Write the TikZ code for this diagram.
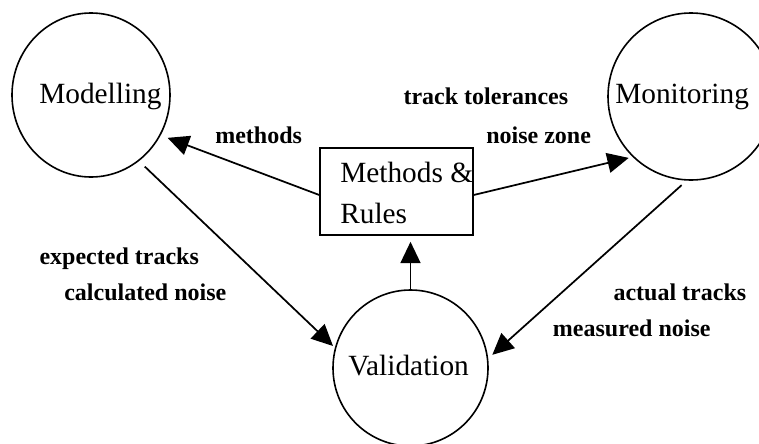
\documentclass[tikz,border=0pt]{standalone}
\usepackage{fontspec}
\setmainfont{Liberation Serif}
\usetikzlibrary{arrows.meta,shapes.geometric}
\begin{document}
\begin{tikzpicture}[x=0.75pt,y=-0.75pt,
  proc/.style={draw, ellipse, line width=1.2pt, inner sep=0pt},
  txt/.style={anchor=base west, inner sep=0pt, font=\fontsize{22}{26}\selectfont},
  lbl/.style={anchor=base west, inner sep=0pt, font=\fontsize{18}{22}\selectfont\bfseries},
  arr/.style={line width=1.3pt, -{Triangle[length=16pt,width=15pt]}},
  rulebox/.style={draw, rectangle, line width=1.2pt, inner sep=0pt, minimum width=114.75pt, minimum height=65.25pt}]
\useasboundingbox (0,0) rectangle (759,443);
\clip (0,0) rectangle (759,443);
% process circles
\node[proc, minimum width=118.5pt, minimum height=123pt] (mod) at (91,95) {};
\node[proc, minimum width=124.5pt, minimum height=125.25pt] (mon) at (691,96.5) {};
\node[proc, minimum width=116.25pt, minimum height=117pt] (val) at (410.5,368) {};
\node[rulebox] (box) at (396.5,191.5) {};
% node texts
\node[txt] (tmod) at (39,103) {Modelling};
\node[txt] (tmon) at (615,103) {Monitoring};
\node[txt] (tval) at (348,375) {Validation};
\node[txt] (tbox1) at (340,182) {Methods \&};
\node[txt] (tbox2) at (340,223) {Rules};
% connectors
\draw[arr, shorten >=5.5pt] ([yshift=-2.6pt]box.west) -- (mod.-30);
\draw[arr, shorten >=3pt] ([yshift=-2.6pt]box.east) -- (mon.226);
\draw[arr, shorten <=6pt, shorten >=1.9pt] (mod.-54.5) -- (val.165.5);
\draw[arr, shorten <=5pt, shorten >=4.1pt] (mon.267) -- (val.7.6);
\draw[arr, shorten >=4.5pt] (val.north) -- (val.north |- box.south);
% connector labels
\node[lbl] (lmeth) at (215,143) {methods};
\node[lbl] (ltol) at (403.3,104) {track tolerances};
\node[lbl] (lzone) at (486,143) {noise zone};
\node[lbl] (lexp) at (39.3,264) {expected tracks};
\node[lbl] (lcalc) at (64,300) {calculated noise};
\node[lbl] (lact) at (613.3,300) {actual tracks};
\node[lbl] (lmeas) at (552.7,336) {measured noise};
\end{tikzpicture}
\end{document}
